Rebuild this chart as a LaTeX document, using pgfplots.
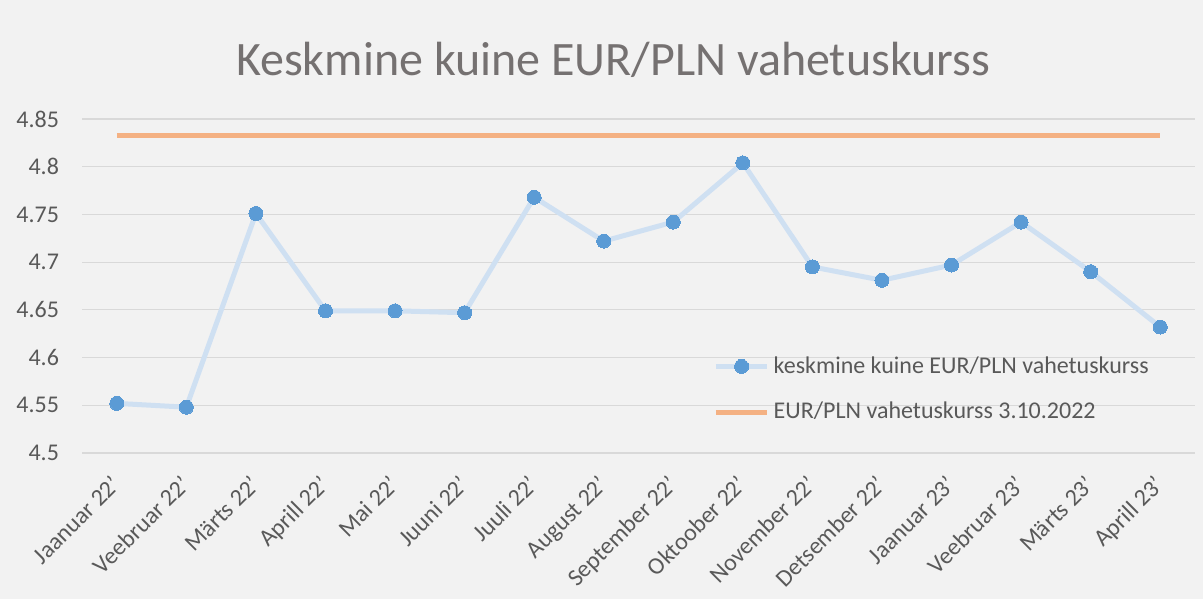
\documentclass[border=0pt]{standalone}
\usepackage{pgfplots}
\pgfplotsset{compat=1.18}
\usepackage{fontspec}
\setmainfont{Carlito}
\definecolor{bg}{HTML}{F2F2F2}
\definecolor{txt}{HTML}{595959}
\definecolor{ttl}{HTML}{757171}
\definecolor{gridc}{HTML}{D9D9D9}
\definecolor{lineb}{HTML}{CFE0F2}
\definecolor{markb}{HTML}{5B9BD5}
\definecolor{orng}{HTML}{F4B183}
\pgfplotstableread{
x y
0 4.552
1 4.548
2 4.751
3 4.649
4 4.649
5 4.647
6 4.768
7 4.722
8 4.742
9 4.804
10 4.695
11 4.681
12 4.697
13 4.742
14 4.690
15 4.632
}\rates
\pgfplotstableread{
x y
0 4.833
15 4.833
}\ref
\begin{document}
\begin{tikzpicture}[x=0.5pt,y=0.5pt]
\fill[bg] (0,0) rectangle (1203,599);
\path[use as bounding box] (0,0) rectangle (1203,599);
\node[text=ttl, font=\fontsize{24}{28}\selectfont] at (613,539) {Keskmine kuine EUR/PLN vahetuskurss};
\begin{axis}[
  at={(41pt,73pt)}, anchor=south west,
  scale only axis, width=556.5pt, height=167pt,
  xmin=-0.5, xmax=15.5, ymin=4.5, ymax=4.85,
  axis line style={draw=none},
  ytick={4.5,4.55,...,4.86},
  ymajorgrids, grid style={gridc, line width=0.6pt},
  major tick length=0pt,
  xtick={0,...,15},
  xticklabels={Jaanuar 22',Veebruar 22',Märts 22',Aprill 22',Mai 22',Juuni 22',Juuli 22',August 22',September 22',Oktoober 22',November 22',Detsember 22',Jaanuar 23',Veebruar 23',Märts 23',Aprill 23'},
  xticklabel style={xshift=-3.5pt, yshift=-9pt, rotate=45, anchor=north east, text=txt, font=\fontsize{12}{14}\selectfont, inner sep=1pt},
  yticklabel style={text=txt, font=\fontsize{12}{14}\selectfont, xshift=-8pt},
  /pgf/number format/assume math mode=true,
  yticklabel={\pgfmathprintnumber[fixed,precision=2]{\tick}},
  legend style={at={(0.567,0.302)}, anchor=north west, draw=none, fill=none, text=txt, font=\fontsize{12}{14}\selectfont, row sep=9pt, inner sep=0pt},
  legend cell align=left,
  legend image code/.code={\draw[mark repeat=2,mark phase=2,#1] plot coordinates {(0cm,0cm) (0.45cm,0cm) (0.9cm,0cm)};},
]
\addplot[lineb, line width=2.5pt, mark=*, mark size=3.5pt, mark options={fill=markb, draw=markb, line width=0pt}] table[x=x,y=y] {\rates};
\addlegendentry{keskmine kuine EUR/PLN vahetuskurss}
\addplot[orng, line width=2.5pt] table[x=x,y=y] {\ref};
\addlegendentry{EUR/PLN vahetuskurss 3.10.2022}
\end{axis}
\end{tikzpicture}
\end{document}
